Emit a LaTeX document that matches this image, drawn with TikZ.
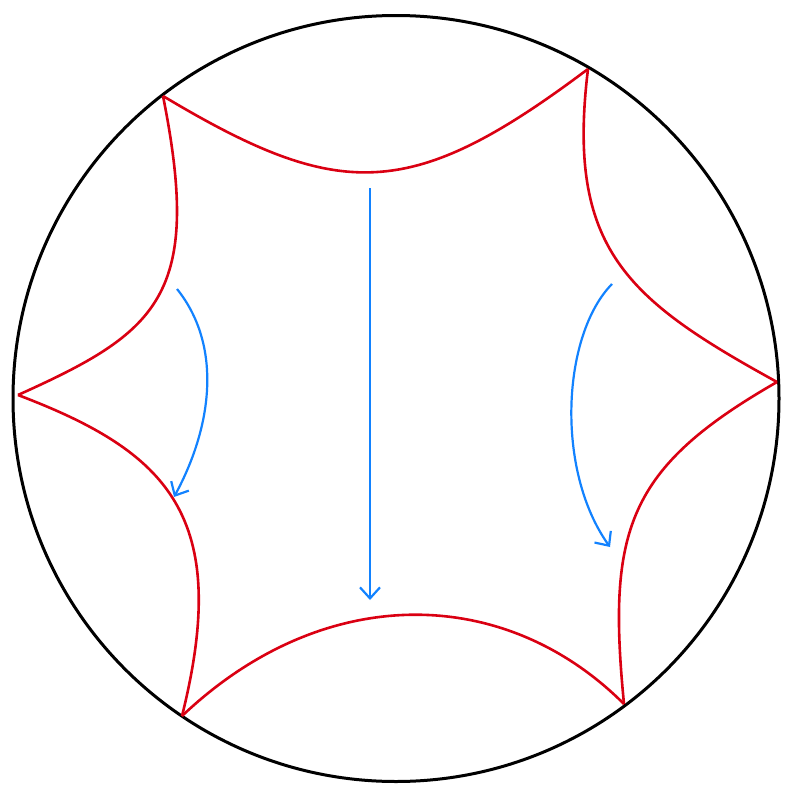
\documentclass[tikz,border=0pt]{standalone}
\usepackage{tikz}
\usetikzlibrary{arrows.meta}

\definecolor{geodred}{RGB}{218,0,18}
\definecolor{flowblue}{RGB}{18,130,255}

\begin{document}
\begin{tikzpicture}[
        x=1pt, y=-1pt,
        disk/.style={draw=black, line width=3pt},
        geod/.style={draw=geodred, line width=2.6pt},
        flow/.style={draw=flowblue, line width=2.2pt, -{Straight Barb[length=11pt, width=20pt, line width=2.2pt]}}
    ]
        \useasboundingbox (0,0) rectangle (793,803);

        \coordinate (O) at (396,398.5);
        \draw[disk] (O) circle[radius=383];

        % ideal vertices of the hexagon
        \coordinate (v1) at (163,96);
        \coordinate (v2) at (588,69);
        \coordinate (v3) at (777,382);
        \coordinate (v4) at (624,704);
        \coordinate (v5) at (182,716);
        \coordinate (v6) at (18,395);

        \draw[geod] (v1) .. controls (340,202) and (411,202) .. (v2);
        \draw[geod] (v2) .. controls (566,249) and (627,299.5) .. (v3);
        \draw[geod] (v3) .. controls (627,468) and (607,530) .. (v4);
        \draw[geod] (v4) .. controls (504,584) and (323,582) .. (v5);
        \draw[geod] (v5) .. controls (232,516) and (168,452) .. (v6);
        \draw[geod] (v6) .. controls (158,332) and (203,296) .. (v1);

        % flow lines
        \coordinate (a1) at (177,289);
        \coordinate (b1) at (174,497);
        \coordinate (a2) at (370,188);
        \coordinate (b2) at (370,600);
        \coordinate (a3) at (612,284);
        \coordinate (b3) at (610,547);

        \draw[flow] (a1) .. controls (222,345) and (213,425) .. (b1);
        \draw[flow] (a2) -- (b2);
        \draw[flow] (a3) .. controls (562,335) and (555,470) .. (b3);

    \end{tikzpicture}
\end{document}
